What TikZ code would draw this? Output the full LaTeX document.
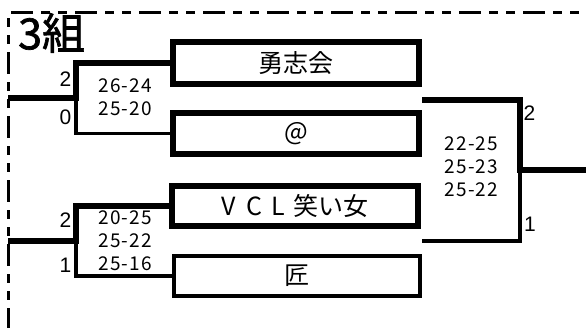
\documentclass[tikz,border=0pt]{standalone}
\usepackage{fontspec}
\setmainfont{Noto Sans CJK JP}
\newfontfamily\arial{Liberation Sans}
\usepackage{tikz}
\usetikzlibrary{positioning}

\begin{document}
\begin{tikzpicture}[x=1pt, y=-1pt,
  equipe/.style={draw, line width=6.5pt, minimum width=246pt, minimum height=42pt, inner sep=0pt, font=\fontsize{25}{25}\selectfont},
  equipefina/.style={equipe, line width=4pt},
  vence/.style={line width=6pt},
  perde/.style={line width=3.5pt},
  placar/.style={align=center, inner sep=0pt, font=\fontsize{19}{23}\selectfont\addfontfeature{LetterSpace=6}},
  sets/.style={inner sep=0pt, font=\arial\fontsize{21}{21}\selectfont}]
\useasboundingbox (0,0) rectangle (586,328);

% Desenhando a moldura tracejada do grupo:
\draw[line width=3pt, dash pattern=on 22pt off 8pt on 9pt off 8pt on 9pt off 8pt] (8,330) |- (590,13);

% Adicionando o nome do grupo:
\node[anchor=west, inner sep=0pt, font=\fontsize{43}{43}\selectfont\addfontfeature{FakeBold=1.6}] (grupo) at (18,33) {3組};

% Desenhando as equipes:
\node[equipe] (yushi) at (296,63) {勇志会};
\node[equipe, minimum height=41pt] (arroba) at (296,133.5) {@};
\node[equipe, minimum height=40pt] (vcl) at (295,206) {{\addfontfeature{LetterSpace=40}VCL}\hspace{0.3em}笑い女};
\node[equipefina, minimum height=40pt] (takumi) at (296.5,276) {匠};

% Desenhando a primeira chave (勇志会 x @):
\coordinate (j1) at (76,98);
\coordinate (e1) at (8,98);
\draw[vence] (yushi.west) -| (j1) -- (e1);
\draw[perde] (arroba.west) -| (j1);
\node[sets] (s1a) at (65.5,79) {2};
\node[sets] (s1b) at (65.5,117) {0};
\node[placar] (p1) at (125,97.5) {26-24\\25-20};

% Desenhando a segunda chave (VCL 笑い女 x 匠):
\coordinate (j3) at (76,241);
\coordinate (e3) at (8,241);
\draw[vence] (vcl.west) -| (j3) -- (e3);
\draw[perde] (takumi.west) -| (j3);
\node[sets] (s3a) at (65.5,220) {2};
\node[sets] (s3b) at (65.5,265) {1};
\node[placar] (p3) at (125,241) {20-25\\25-22\\25-16};

% Desenhando a chave final:
\coordinate (r1) at (422,100);
\coordinate (r2) at (422,241);
\coordinate (j2) at (520,170);
\coordinate (fim) at (586,170);
\draw[vence] (r1) -| (j2) -- (fim);
\draw[perde] (r2) -| (j2);
\node[sets] (s2a) at (529.5,113.5) {2};
\node[sets] (s2b) at (530,224.5) {1};
\node[placar] (p2) at (471.5,167) {22-25\\25-23\\25-22};
\end{tikzpicture}
\end{document}
